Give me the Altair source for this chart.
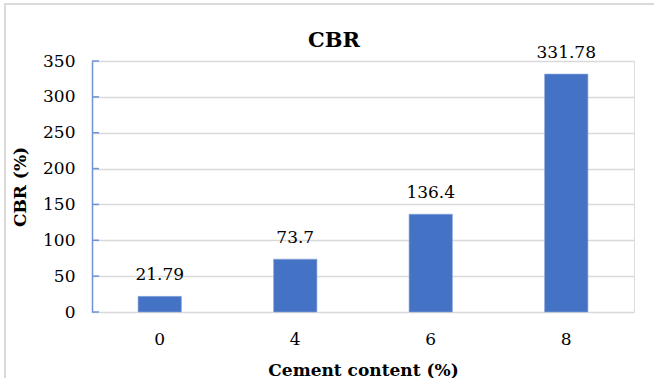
import altair as alt
import pandas as pd

# CBR results by cement content
cement = ["0", "4", "6", "8"]
cbr = [21.79, 73.7, 136.4, 331.78]
y_ticks = [0, 50, 100, 150, 200, 250, 300, 350]
chart_title = "CBR"

FONT = "DejaVu Serif"
BAR = "#4472C4"
GRID = "#d9d9d9"
AXIS_BLUE = "#6f93d6"
NUM_SIZE = 17
TITLE_SIZE = 17

W, H = 542, 251

df = pd.DataFrame({"cement": cement, "cbr": cbr, "label": [str(v) for v in cbr]})
ticks_df = pd.DataFrame({"cement": ["0"] * len(y_ticks), "cbr": y_ticks})
one_row = pd.DataFrame({"t": [chart_title]})

x_scale = alt.Scale(domain=cement, paddingInner=0.68, paddingOuter=0.34)
y_scale = alt.Scale(domain=[0, 350], nice=False)

x_axis = alt.Axis(
    title="Cement content (%)",
    labelAngle=0,
    labelFont=FONT,
    labelFontSize=NUM_SIZE,
    labelColor="#000000",
    labelPadding=19,
    ticks=False,
    domain=False,
    grid=False,
    titleFont=FONT,
    titleFontSize=TITLE_SIZE,
    titleFontWeight="bold",
    titleColor="#000000",
    titleY=63,
    titleBaseline="alphabetic",
)
y_axis = alt.Axis(
    title="CBR (%)",
    values=y_ticks,
    tickCount=8,
    labelOverlap=False,
    labelFont=FONT,
    labelFontSize=NUM_SIZE,
    labelColor="#000000",
    labelPadding=17,
    ticks=False,
    domainColor=AXIS_BLUE,
    domainWidth=1.5,
    grid=True,
    gridColor=GRID,
    gridWidth=1.6,
    titleFont=FONT,
    titleFontSize=TITLE_SIZE,
    titleFontWeight="bold",
    titleColor="#000000",
    titleAngle=-90,
    titleX=-72,
    titleY=H / 2,
    titleAlign="center",
    titleBaseline="middle",
)

x_enc = alt.X("cement:N", scale=x_scale, axis=x_axis)
y_enc = alt.Y("cbr:Q", scale=y_scale, axis=y_axis)

bars = alt.Chart(df).mark_bar(color=BAR, stroke="#8eaadb", strokeWidth=0.6).encode(x=x_enc, y=y_enc)

labels = alt.Chart(df).mark_text(
    font=FONT, fontSize=NUM_SIZE, color="#000000", baseline="alphabetic", dy=-16
).encode(x=x_enc, y=y_enc, text="label:N")

# short inward tick marks on the value axis
tick_marks = alt.Chart(ticks_df).mark_rule(color=AXIS_BLUE, strokeWidth=1.5).encode(
    y=y_enc, x=alt.value(0), x2=alt.value(7)
)

# thin frame around the whole chart
frame = alt.Chart(one_row).mark_rect(
    fill=None, stroke=GRID, strokeWidth=2
).encode(x=alt.value(-87), y=alt.value(-57), x2=alt.value(W + 200), y2=alt.value(H + 200))

# chart heading
heading = alt.Chart(one_row).mark_text(
    font=FONT, fontSize=21, fontWeight="bold", color="#000000", baseline="alphabetic", align="center"
).encode(x=alt.value(242), y=alt.value(-14), text="t:N")

chart = (
    alt.layer(frame, bars, labels, tick_marks, heading)
    .properties(
        width=W,
        height=H,
        autosize=alt.AutoSizeParams(type="none"),
        padding={"left": 92, "top": 61, "right": 20, "bottom": 66},
    )
    .configure_view(stroke=None)
    .configure(background="white")
)

chart.save("out.html", embed_options={"renderer": "svg", "actions": False})
